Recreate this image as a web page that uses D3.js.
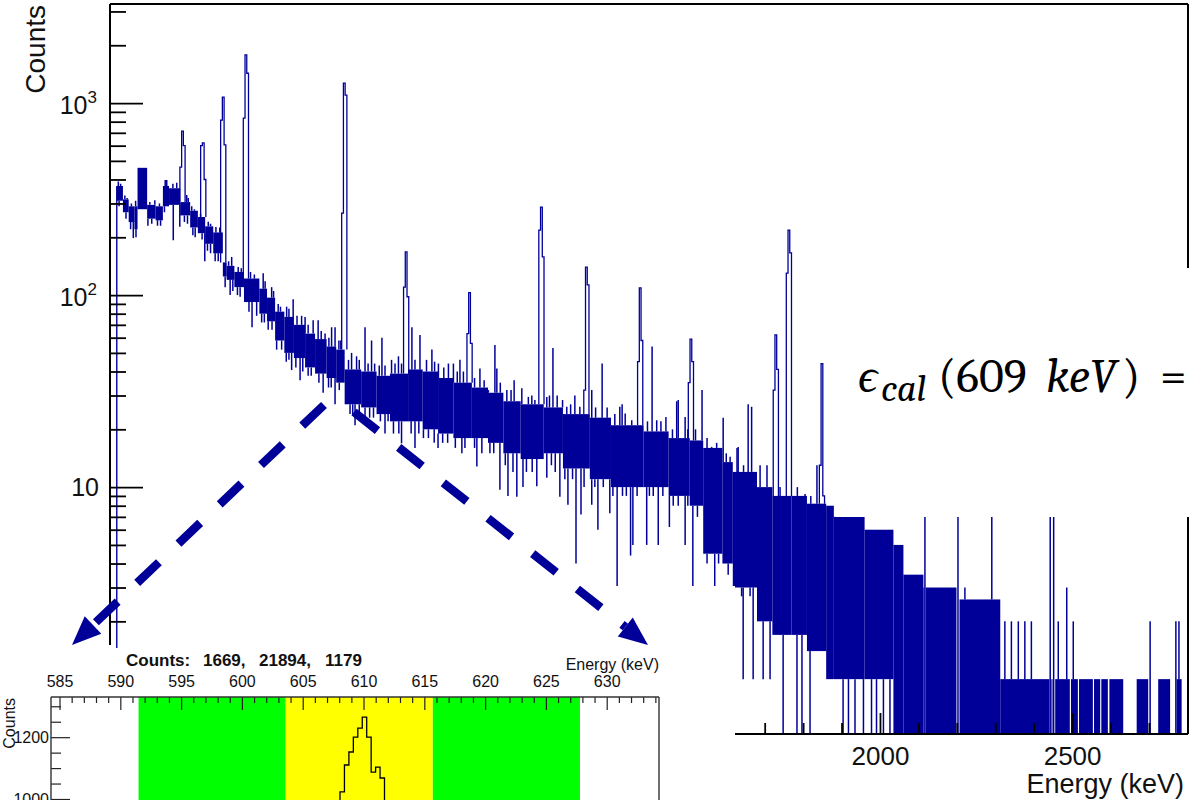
<!DOCTYPE html>
<html>
<head>
<meta charset="utf-8">
<script src="https://cdn.jsdelivr.net/npm/d3@7"></script>
<style>
  body { margin: 0; background: #fff; }
  svg { display: block; }
  text { font-family: "Liberation Sans", Arial, Helvetica, sans-serif; }
</style>
</head>
<body>
<svg id="chart" width="1191" height="800"></svg>
<script>
// ---- data ----
// solid core of the continuum: [start keV, low counts, high counts] (runs to next start); high 0 = empty
const bandSegments = [
  [14, 310, 370], [30, 270, 315], [45, 240, 290], [60, 220, 290], [68, 280, 460],
  [93, 250, 295], [115, 245, 290], [134, 290, 370], [150, 295, 360], [179, 260, 305],
  [205, 225, 275], [225, 210, 255], [244, 185, 228], [265, 165, 212], [290, 125, 148],
  [300, 120, 142], [320, 110, 132], [345, 92, 122], [385, 80, 108], [405, 73, 97],
  [426, 58, 82], [450, 50, 77], [475, 47, 70], [504, 42, 63], [530, 39, 59],
  [560, 37, 54], [585, 35, 52], [607, 27, 41], [650, 26, 40], [690, 24, 38],
  [725, 22, 39], [772, 22, 41], [810, 20, 40], [850, 19, 37], [890, 18, 35],
  [938, 18, 33], [980, 17, 31], [1020, 15, 28], [1065, 14, 27], [1125, 15, 26],
  [1175, 12.5, 24], [1245, 11, 23], [1300, 10, 21], [1385, 10, 19.5], [1450, 9, 18],
  [1505, 8, 17.5], [1540, 4.5, 16], [1590, 4, 13.5], [1617, 3, 12], [1680, 2, 10],
  [1720, 1.7, 9], [1770, 1.7, 9], [1810, 1.4, 8.2], [1860, 1, 8], [1880, 1, 7],
  [1960, 1, 6], [2035, 0, 5], [2061, 0, 3.5], [2113, 0, 3], [2116, 0, 0],
  [2119, 0, 3], [2199, 0, 0], [2207, 0, 2.6], [2313, 0, 1], [2441, 0, 0],
  [2446, 0, 1], [2449, 0, 0], [2456, 0, 1], [2494, 0, 0], [2497, 0, 1],
  [2515, 0, 0], [2518, 0, 1], [2554, 0, 0], [2557, 0, 1], [2573, 0, 0],
  [2576, 0, 1], [2593, 0, 0], [2597, 0, 1], [2633, 0, 0], [2668, 0, 1],
  [2698, 0, 0], [2724, 0, 1], [2755, 0, 0], [2772, 0, 1], [2785, 0, 0]
];
const bandEnd = 2800;

// gamma lines: [keV, left bin, centre bin, right bin]
const peaks = [
  [185, 464, 714, 600], [239, 600, 620, 400], [291, 815, 1075, 605],
  [350, 835, 1780, 1430], [606, 267, 1271, 1100], [767, 110, 168, 98],
  [932, 63, 103, 56], [1119, 218, 287, 158], [1236, 32, 140, 113],
  [1376, 45, 109, 58], [1508, 35, 59, 45], [1729, 32, 62, 41],
  [1763, 130, 218, 166], [1849, 13, 44, 9]
];

// single-bin fluctuations above / below the core: [keV, counts]
const spikesUp = [
  [18, 390], [24, 380], [35, 330], [41, 320], [52, 300], [63, 310], [100, 305], [113, 312],
  [125, 300], [140, 397], [144, 397], [160, 380], [170, 385], [196, 332], [200, 320],
  [209, 290], [216, 280], [222, 270], [232, 265], [252, 241], [258, 235], [272, 226],
  [282, 225], [305, 150], [313, 158], [330, 140], [338, 138], [362, 132], [372, 128],
  [382, 122], [395, 130], [400, 118], [417, 110], [422, 105], [434, 90], [440, 87],
  [456, 87], [462, 85], [473, 95], [483, 78], [495, 78], [504, 77], [512, 70], [525, 74],
  [538, 74], [546, 65], [556, 63], [566, 60], [573, 68], [582, 68], [592, 58], [597, 58],
  [617, 46], [625, 50], [638, 48], [645, 46], [660, 68], [668, 44], [677, 58], [685, 44],
  [697, 43], [704, 60], [712, 43], [729, 46], [738, 44], [747, 48], [755, 44], [782, 68],
  [790, 46], [803, 62], [820, 46], [834, 52], [841, 45], [851, 44], [865, 42], [877, 44],
  [890, 44], [900, 40], [907, 46], [916, 40], [945, 37], [959, 41.5], [970, 36], [981, 32],
  [998, 55], [1003, 41.5], [1012, 35], [1029, 32], [1040, 32], [1048, 36], [1068, 32.7],
  [1085, 29.5], [1094, 30], [1102, 28.4], [1133, 29.5], [1140, 30], [1149, 53], [1160, 30],
  [1174, 28.4], [1185, 26.2], [1195, 27], [1206, 30], [1219, 26.2], [1250, 32], [1260, 26],
  [1277, 44], [1290, 26], [1310, 24], [1323, 26.2], [1329, 27], [1337, 24.2], [1354, 22.3],
  [1395, 22], [1407, 54], [1419, 22.3], [1430, 22], [1443, 23.2], [1460, 20], [1471, 28],
  [1475, 28.4], [1493, 23.2], [1500, 20], [1520, 20], [1537, 32], [1550, 18], [1562, 16.2],
  [1575, 17], [1592, 23], [1600, 15], [1610, 14.4], [1628, 16], [1631, 16.2], [1645, 13],
  [1657, 27], [1666, 26.2], [1675, 12], [1688, 13], [1706, 13], [1740, 10], [1785, 10],
  [1805, 9.2], [1820, 9], [1836, 13], [2117, 7], [2203, 7], [2221, 3], [2291, 7], [2325, 2],
  [2342, 2], [2360, 2], [2377, 2], [2394, 2], [2443, 7], [2452, 7], [2464, 2],
  [2486, 3], [2503, 2], [2703, 2], [2770, 2], [2778, 2]
];
const spikesDown = [
  [20, 290], [38, 250], [50, 220], [57, 198], [64, 200], [95, 230], [105, 235], [120, 230],
  [128, 230], [138, 270], [161, 193], [178, 227], [190, 240], [198, 235], [212, 205],
  [218, 200], [236, 195], [243, 150], [250, 170], [258, 165], [270, 150], [278, 150],
  [296, 110], [309, 100], [316, 105], [328, 100], [335, 98], [358, 82], [366, 68],
  [378, 78], [391, 72], [398, 72], [408, 66], [418, 66], [430, 52], [443, 52], [455, 45],
  [462, 46], [469, 40.7], [480, 42], [491, 36], [498, 40], [512, 38], [520, 38], [540, 35],
  [551, 31], [565, 33], [572, 33], [582, 27], [593, 32], [621, 24], [628, 24], [634, 21],
  [645, 24], [660, 23], [672, 23], [682, 23], [700, 22], [712, 19], [720, 22], [734, 19],
  [748, 19], [755, 16.9], [780, 19], [790, 16], [800, 19], [812, 18], [825, 18], [840, 17],
  [850, 16], [862, 17], [875, 17], [895, 16], [912, 15], [920, 16], [945, 16], [951, 12.8],
  [964, 15], [985, 15], [995, 15], [1011, 9.7], [1025, 13], [1032, 9], [1045, 12],
  [1055, 8.9], [1071, 10], [1080, 12], [1095, 12], [1107, 10.1], [1133, 11.2], [1145, 13],
  [1155, 12], [1167, 8.9], [1180, 11], [1188, 8.1], [1200, 11], [1209, 4], [1222, 7.2],
  [1230, 10], [1250, 8.1], [1258, 10], [1266, 6], [1280, 10], [1297, 7.3], [1305, 9],
  [1316, 3], [1330, 9], [1340, 9], [1351, 4.4], [1357, 5], [1368, 9], [1393, 5], [1400, 9],
  [1410, 9], [1423, 5], [1435, 9], [1452, 6.2], [1462, 8], [1475, 8], [1493, 5], [1500, 8],
  [1513, 3], [1525, 7], [1550, 4], [1570, 3], [1580, 4], [1592, 4], [1605, 3.5],
  [1625, 3], [1640, 2.7], [1644, 1], [1662, 2.7], [1670, 1], [1684, 2.7], [1696, 1],
  [1701, 2.7], [1714, 1], [1748, 0], [1784, 0], [1797, 0], [1818, 0], [1904, 0], [1918, 0],
  [1935, 0], [1957, 0], [1978, 0], [1991, 0], [2009, 0], [2026, 0]
];

const yMajorTicks = [10, 100, 1000];
const xMajorTicks = [2000, 2500];

// inset (zoom on the 609 keV line)
const insetTicks = [585, 590, 595, 600, 605, 610, 615, 620, 625, 630];
const insetWindowEdges = [591.5, 603.6, 615.7, 627.8];
const insetBinStart = 607.70, insetBinWidth = 0.366;
const insetBins = [905, 1023, 1110, 1152, 1200, 1229, 1265, 1200, 1087, 1103, 1068, 930];
const insetCountTicks = [1000, 1200];
const countsSummary = ["1669,", "21894,", "1179"];

// ---- drawing ----
const BLUE = "#000099";
const svg = d3.select("#chart");

const x = d3.scaleLinear().domain([0, 2800]).range([111.4, 1187.4]);
const y = d3.scaleLog().domain([0.518, 3280]).range([734, 4]);
const yBottom = 734;
const yc = c => (c > 0 ? y(c) : yBottom);

svg.append("defs").append("clipPath").attr("id", "frameClip")
  .append("rect").attr("x", 111).attr("y", 4.5).attr("width", 1077).attr("height", 729.5);

const plot = svg.append("g").attr("clip-path", "url(#frameClip)");

const segs = bandSegments.map((d, i) => ({
  e0: d[0],
  e1: i < bandSegments.length - 1 ? bandSegments[i + 1][0] : bandEnd,
  lo: d[1], hi: d[2]
}));
const bandAt = e => {
  let s = segs[0];
  segs.forEach(d => { if (d.e0 <= e) s = d; });
  return s;
};

// first bin rising from zero
plot.append("line")
  .attr("x1", x(bandSegments[0][0])).attr("x2", x(bandSegments[0][0]))
  .attr("y1", yBottom).attr("y2", y(bandSegments[0][2]))
  .attr("stroke", BLUE).attr("stroke-width", 1.4);

plot.selectAll("rect.band")
  .data(segs.filter(s => s.hi > 0))
  .join("rect")
  .attr("class", "band")
  .attr("x", s => x(s.e0))
  .attr("width", s => Math.max(0.6, x(s.e1) - x(s.e0)))
  .attr("y", s => yc(s.hi))
  .attr("height", s => yc(s.lo) - yc(s.hi))
  .attr("fill", BLUE);

plot.selectAll("line.up")
  .data(spikesUp.filter(d => d[1] > bandAt(d[0]).hi))
  .join("line")
  .attr("class", "up")
  .attr("x1", d => x(d[0])).attr("x2", d => x(d[0]))
  .attr("y1", d => yc(bandAt(d[0]).hi)).attr("y2", d => yc(d[1]))
  .attr("stroke", BLUE).attr("stroke-width", 1.5);

plot.selectAll("line.down")
  .data(spikesDown.filter(d => d[1] < bandAt(d[0]).lo || bandAt(d[0]).lo === 0))
  .join("line")
  .attr("class", "down")
  .attr("x1", d => x(d[0])).attr("x2", d => x(d[0]))
  .attr("y1", d => yc(bandAt(d[0]).lo)).attr("y2", d => yc(d[1]))
  .attr("stroke", BLUE).attr("stroke-width", 1.5);

const peakBinKeV = 4.5;
plot.selectAll("path.peak")
  .data(peaks)
  .join("path")
  .attr("class", "peak")
  .attr("d", ([e, l, m, r]) => {
    const base = yc(bandAt(e).hi);
    const xs = [e - 1.5 * peakBinKeV, e - 0.5 * peakBinKeV, e + 0.5 * peakBinKeV, e + 1.5 * peakBinKeV].map(x);
    return `M${xs[0]},${base}V${y(l)}H${xs[1]}V${y(m)}H${xs[2]}V${y(r)}H${xs[3]}V${base}`;
  })
  .attr("fill", "none").attr("stroke", BLUE).attr("stroke-width", 1.3);

// white background of the pasted inset
svg.append("rect").attr("x", 118).attr("y", 586).attr("width", 617).attr("height", 214).attr("fill", "#fff");
svg.append("rect").attr("x", 0).attr("y", 648).attr("width", 735).attr("height", 152).attr("fill", "#fff");

// frame
const frame = svg.append("g").attr("stroke", "#000").attr("stroke-width", 2);
frame.append("line").attr("x1", 110).attr("x2", 1188).attr("y1", 4).attr("y2", 4);
frame.append("line").attr("x1", 1188).attr("x2", 1188).attr("y1", 4).attr("y2", 734);
frame.append("line").attr("x1", 110).attr("x2", 110).attr("y1", 4).attr("y2", 645);
frame.append("line").attr("x1", 735).attr("x2", 1188).attr("y1", 734).attr("y2", 734);

// y axis ticks
const yMinorTicks = [];
[1, 10, 100, 1000].forEach(p => d3.range(2, 10).forEach(m => {
  if (m * p < 3280) yMinorTicks.push(m * p);
}));
svg.append("g").attr("transform", "translate(110,0)")
  .call(d3.axisLeft(y).tickValues(yMajorTicks).tickSize(-33).tickFormat(""))
  .call(g => g.select(".domain").remove())
  .selectAll("line").attr("stroke", "#000").attr("stroke-width", 1.8);
svg.append("g").attr("transform", "translate(110,0)")
  .call(d3.axisLeft(y).tickValues(yMinorTicks).tickSize(-16).tickFormat(""))
  .call(g => g.select(".domain").remove())
  .selectAll("line").attr("stroke", "#000").attr("stroke-width", 1.8);

yMajorTicks.forEach(v => {
  const exp = Math.round(Math.log10(v));
  const t = svg.append("text").attr("text-anchor", "end").attr("font-size", 25).attr("fill", "#111");
  if (exp === 1) {
    t.attr("x", 99).attr("y", y(v) + 9).text("10");
  } else {
    t.attr("x", 97).attr("y", y(v) + 11);
    t.append("tspan").text("10");
    t.append("tspan").attr("font-size", 17).attr("dy", -11).text(exp);
  }
});

svg.append("text")
  .attr("transform", "translate(45,5) rotate(-90)")
  .attr("text-anchor", "end").attr("font-size", 28).attr("fill", "#111")
  .text("Counts");

// x axis ticks
const xMinorTicks = d3.range(1700, 2800, 100).filter(v => !xMajorTicks.includes(v));
svg.append("g").attr("transform", `translate(0,${yBottom})`)
  .call(d3.axisBottom(x).tickValues(xMajorTicks).tickSize(-21).tickPadding(13).tickFormat(d3.format("d")))
  .call(g => g.select(".domain").remove())
  .call(g => g.selectAll("line").attr("stroke", "#000").attr("stroke-width", 1.8))
  .call(g => g.selectAll("text").attr("font-size", 26).attr("fill", "#111"));
svg.append("g").attr("transform", `translate(0,${yBottom})`)
  .call(d3.axisBottom(x).tickValues(xMinorTicks).tickSize(-11).tickFormat(""))
  .call(g => g.select(".domain").remove())
  .selectAll("line").attr("stroke", "#000").attr("stroke-width", 1.8);

svg.append("text")
  .attr("x", 1184).attr("y", 793).attr("text-anchor", "end")
  .attr("font-size", 27).attr("fill", "#111")
  .text("Energy (keV)");

// equation over a white box
svg.append("rect").attr("x", 836).attr("y", 268).attr("width", 355).attr("height", 249).attr("fill", "#fff");
const eq = svg.append("text")
  .style("font-family", "'Cambria Math', Cambria, 'Liberation Serif', 'DejaVu Serif', serif")
  .attr("font-size", 48).attr("fill", "#000");
eq.append("tspan").attr("x", 858).attr("y", 392).attr("font-style", "italic").text("\u03f5");
eq.append("tspan").attr("x", 881).attr("y", 401).attr("font-style", "italic").attr("font-size", 38).text("cal");
eq.append("tspan").attr("x", 938).attr("y", 392).text("(609");
eq.append("tspan").attr("x", 1046).attr("y", 392).attr("font-style", "italic").text("keV");
eq.append("tspan").attr("x", 1122).attr("y", 392).text(")");
eq.append("tspan").attr("x", 1160).attr("y", 392).text("=");

// ---- inset ----
const xi = d3.scaleLinear().domain([584.3, 634.3]).range([51, 659]);
const yi = d3.scaleLinear().domain([1000, 1330]).range([799, 697]);
const inset = svg.append("g");

svg.select("defs").append("clipPath").attr("id", "insetClip")
  .append("rect").attr("x", 51).attr("y", 697).attr("width", 608).attr("height", 103);

const windowColors = ["#00ff00", "#ffff00", "#00ff00"];
inset.selectAll("rect.win")
  .data(d3.pairs(insetWindowEdges))
  .join("rect")
  .attr("class", "win")
  .attr("x", d => xi(d[0])).attr("width", d => xi(d[1]) - xi(d[0]))
  .attr("y", 697).attr("height", 103)
  .attr("fill", (d, i) => windowColors[i]);

const stepPts = insetBins.map((v, i) => [insetBinStart + i * insetBinWidth, v]);
stepPts.push([insetBinStart + insetBins.length * insetBinWidth, insetBins[insetBins.length - 1]]);
inset.append("path")
  .attr("clip-path", "url(#insetClip)")
  .attr("d", d3.line().x(d => xi(d[0])).y(d => yi(d[1])).curve(d3.curveStepAfter)(stepPts))
  .attr("fill", "none").attr("stroke", "#000").attr("stroke-width", 1.3);

const insetFont = g => g.selectAll("text").attr("font-size", 16).attr("fill", "#111");

inset.append("g").attr("transform", "translate(0,697)")
  .call(d3.axisTop(xi).tickValues(insetTicks).tickSize(-13).tickPadding(10).tickFormat(d3.format("d")))
  .call(g => g.select(".domain").remove())
  .call(g => g.selectAll("line").attr("stroke", "#222").attr("stroke-width", 1.2))
  .call(insetFont);
inset.append("g").attr("transform", "translate(0,697)")
  .call(d3.axisTop(xi).tickValues(d3.range(585, 635).filter(v => v % 5 !== 0)).tickSize(-6).tickFormat(""))
  .call(g => g.select(".domain").remove())
  .selectAll("line").attr("stroke", "#222").attr("stroke-width", 1.2);

inset.append("g").attr("transform", "translate(51,0)")
  .call(d3.axisLeft(yi).tickValues(insetCountTicks).tickSize(-19).tickPadding(2).tickFormat(d3.format("d")))
  .call(g => g.select(".domain").remove())
  .call(g => g.selectAll("line").attr("stroke", "#222").attr("stroke-width", 1.2))
  .call(insetFont);
inset.append("g").attr("transform", "translate(51,0)")
  .call(d3.axisLeft(yi).tickValues([1050, 1100, 1150, 1250, 1300]).tickSize(-10).tickFormat(""))
  .call(g => g.select(".domain").remove())
  .selectAll("line").attr("stroke", "#222").attr("stroke-width", 1.2);

const iframe = inset.append("g").attr("stroke", "#333").attr("stroke-width", 1.4);
iframe.append("line").attr("x1", 51).attr("x2", 659).attr("y1", 697).attr("y2", 697);
iframe.append("line").attr("x1", 51).attr("x2", 51).attr("y1", 697).attr("y2", 800);
iframe.append("line").attr("x1", 659).attr("x2", 659).attr("y1", 697).attr("y2", 800);

inset.append("text")
  .attr("transform", "translate(15,698) rotate(-90)")
  .attr("text-anchor", "end").attr("font-size", 16).attr("fill", "#111")
  .text("Counts");
inset.append("text")
  .attr("x", 659).attr("y", 670).attr("text-anchor", "end")
  .attr("font-size", 16).attr("fill", "#111")
  .text("Energy (keV)");

const summaryX = [203, 259, 325];
const summary = inset.append("text").attr("y", 666).attr("font-size", 17)
  .attr("font-weight", "bold").attr("fill", "#111");
summary.append("tspan").attr("x", 126).text("Counts:");
countsSummary.forEach((s, i) => summary.append("tspan").attr("x", summaryX[i]).text(s));

// ---- dashed arrows from the spectrum to the inset ----
function arrow(x0, y0, x1, y1) {
  const L = Math.hypot(x1 - x0, y1 - y0), ux = (x1 - x0) / L, uy = (y1 - y0) / L;
  const head = 29, half = 12;
  const bx = x1 - ux * head, by = y1 - uy * head;
  svg.append("line")
    .attr("x1", x0).attr("y1", y0).attr("x2", bx).attr("y2", by)
    .attr("stroke", BLUE).attr("stroke-width", 8.5).attr("stroke-dasharray", "30,27");
  svg.append("path")
    .attr("d", `M${x1},${y1}L${bx - uy * half},${by + ux * half}L${bx + uy * half},${by - ux * half}Z`)
    .attr("fill", BLUE);
}
arrow(324, 405, 72, 645);
arrow(354, 412, 648, 645);
</script>
</body>
</html>
